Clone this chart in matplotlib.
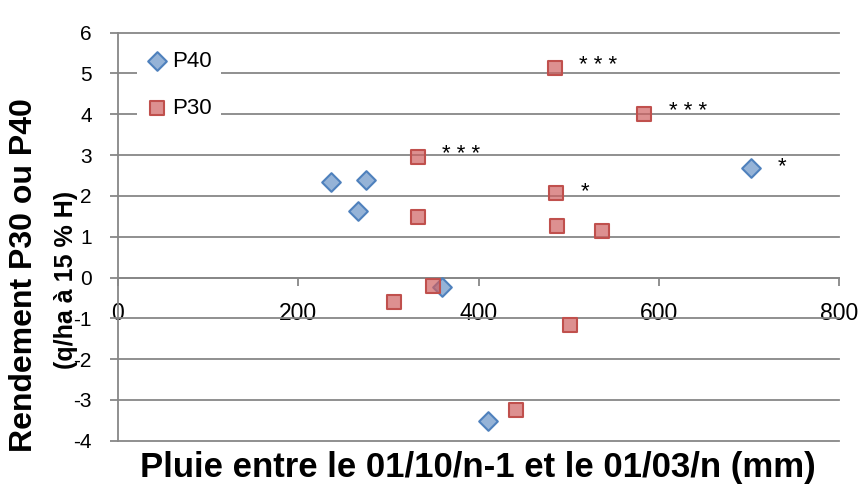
import matplotlib
matplotlib.use("Agg")
import matplotlib.pyplot as plt

plt.rcParams['font.family'] = ['Liberation Sans', 'DejaVu Sans']
plt.rcParams['axes.unicode_minus'] = False

# P40 (diamonds) and P30 (squares): rain (mm) vs yield difference
p40_x = [236, 266, 275, 359, 410, 702]
p40_y = [2.33, 1.62, 2.39, -0.24, -3.52, 2.69]
p30_x = [485, 584, 333, 486, 333, 487, 537, 306, 349, 502, 442]
p30_y = [5.14, 4.00, 2.95, 2.06, 1.48, 1.26, 1.15, -0.59, -0.21, -1.16, -3.24]

# significance marks next to some points
sig_labels = ["* * *", "* * *", "* * *", "*", "*"]
sig_x = [511, 611, 360, 732, 513]
sig_y = [5.05, 3.93, 2.88, 2.59, 1.97]

x_ticks = [0, 200, 400, 600, 800]
y_ticks = [-4, -3, -2, -1, 0, 1, 2, 3, 4, 5, 6]

W, H = 860, 487
fig = plt.figure(figsize=(W / 100, H / 100), dpi=100)
ax = fig.add_axes([118 / W, 1 - 440.7 / H, (839 - 118) / W, (440.7 - 32.7) / H])

grey = "#878787"

ax.scatter(p40_x, p40_y, marker="D", s=9.5 ** 2, facecolor="#95B3D7",
           edgecolor="#4F81BD", linewidth=1.5, label="P40", zorder=3)
ax.scatter(p30_x, p30_y, marker="s", s=10.0 ** 2, facecolor=(0.81, 0.38, 0.38, 0.7),
           edgecolor="#C0504D", linewidth=1.5, label="P30", zorder=4)

for lab, x, y in zip(sig_labels, sig_x, sig_y):
    ax.text(x, y, lab, fontsize=16, ha="left", va="baseline", color="black")

ax.set_xlim(0, 800)
ax.set_ylim(-4, 6)
ax.set_xticks(x_ticks)
ax.set_yticks(y_ticks)

ax.spines["top"].set_visible(False)
ax.spines["right"].set_visible(False)
ax.spines["bottom"].set_position(("data", 0))
ax.spines["bottom"].set_color(grey)
ax.spines["left"].set_color(grey)
ax.spines["bottom"].set_linewidth(1.3)
ax.spines["left"].set_linewidth(1.3)

ax.tick_params(axis="x", direction="out", length=5.8, width=1.3, color=grey,
               labelsize=16.5, pad=12)
ax.tick_params(axis="y", direction="out", length=5.8, width=1.3, color=grey,
               labelsize=15, pad=13)

ax.yaxis.grid(True, color=grey, linewidth=1.3)
ax.set_axisbelow(True)
for gl in ax.get_ygridlines():
    gl.set_clip_on(False)

leg = ax.legend(loc="upper left", bbox_to_anchor=(137 / W, 1 - 42 / H),
                bbox_transform=fig.transFigure, fontsize=16, frameon=True,
                facecolor="white", edgecolor="none", framealpha=1,
                borderaxespad=0, borderpad=0.4, handlelength=1.0,
                handletextpad=0.2, labelspacing=1.18, scatterpoints=1)
leg.get_frame().set_linewidth(0)
leg.set_zorder(5)

fig.text(24 / W, 1 - 275 / H, "Rendement P30 ou P40", rotation=90,
         ha="center", va="center", fontsize=23, fontweight="bold")
fig.text(66 / W, 1 - 279.5 / H, "(q/ha à 15 % H)", rotation=90,
         ha="center", va="center", fontsize=18, fontweight="bold")
fig.text(478 / W, 1 - 467 / H, "Pluie entre le 01/10/n-1 et le 01/03/n (mm)",
         ha="center", va="center", fontsize=25, fontweight="bold")

fig.savefig("out.png", dpi=100)
